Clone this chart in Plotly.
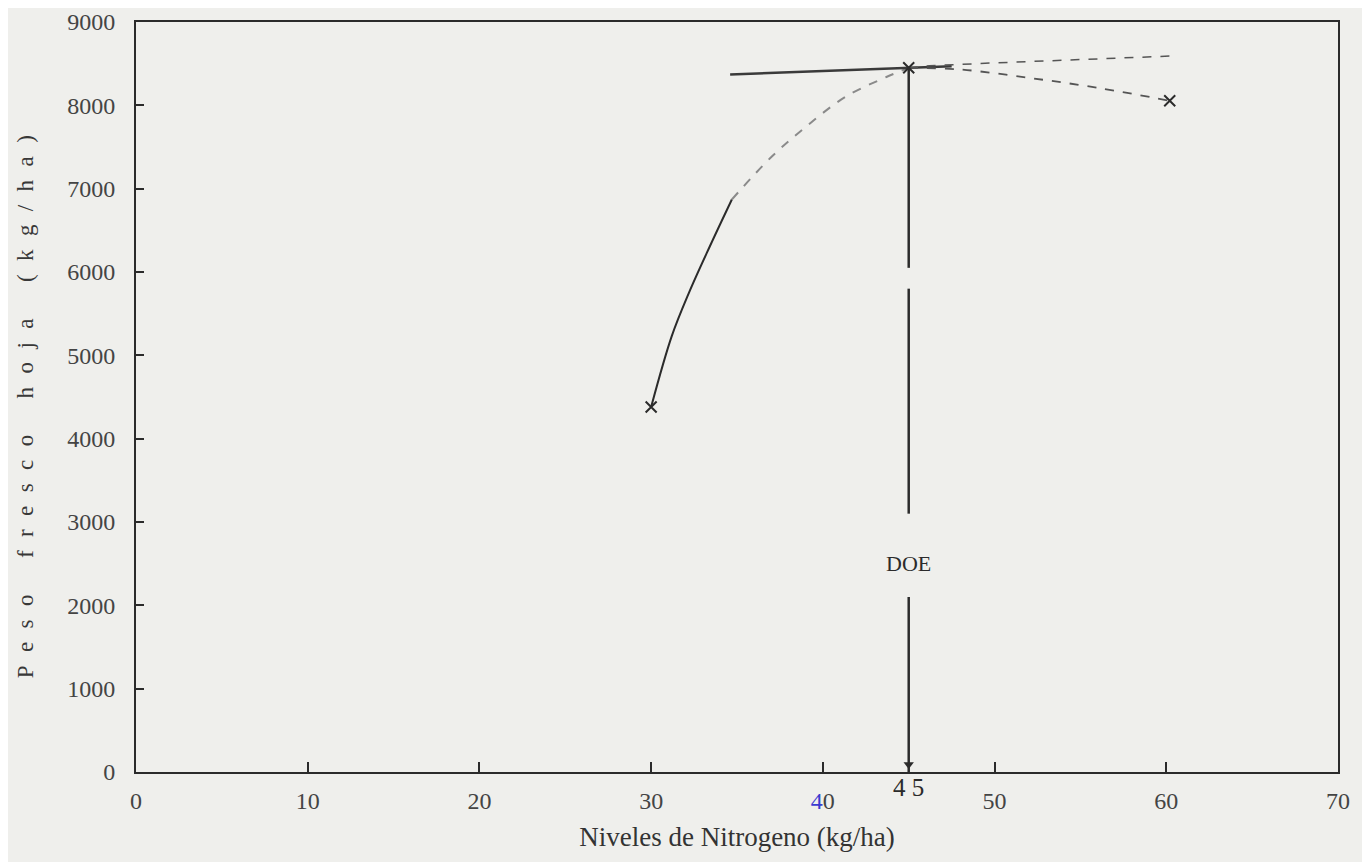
import plotly.graph_objects as go

# ---- data ----
x_ticks = [0, 10, 20, 30, 40, 50, 60, 70]
x_tick_text = ["0", "10", "20", "30", "<span style='color:#3b3bd0'>4</span>0", "50", "60", "70"]
y_ticks = [0, 1000, 2000, 3000, 4000, 5000, 6000, 7000, 8000, 9000]

# response curve (solid dark lower part, faint dashed upper part)
curve_x = [30.0, 31.2, 32.2, 33.4, 34.7, 37.0, 39.0, 41.3, 43.7, 45.0]
curve_y = [4380, 5230, 5750, 6300, 6870, 7380, 7740, 8100, 8340, 8450]
solid_n = 5

# near-horizontal tangent line
tang_x = [34.6, 45.0, 47.5]
tang_y = [8370, 8450, 8470]

# upper dashed projection
up_x = [45.0, 46.2, 50.2, 56.0, 60.7]
up_y = [8450, 8475, 8511, 8559, 8595]

# lower dashed projection
low_x = [45.0, 48.0, 52.0, 56.0, 60.2]
low_y = [8450, 8430, 8330, 8210, 8055]

# observed points (x markers)
pts_x = [30.0, 45.0, 60.2]
pts_y = [4380, 8450, 8055]

# optimum dose (DOE) vertical line pieces
doe_x = 45
doe_pieces = [(8450, 6050), (5800, 3100), (2100, 0)]
doe_label_y = 2500

ink = "#2b2b2b"
bg = "#efefec"
font = "Liberation Serif"

fig = go.Figure()

fig.add_trace(go.Scatter(x=curve_x[:solid_n], y=curve_y[:solid_n], mode="lines",
                         line=dict(color=ink, width=2, shape="spline"), showlegend=False))
fig.add_trace(go.Scatter(x=curve_x[solid_n - 1:], y=curve_y[solid_n - 1:], mode="lines",
                         line=dict(color="#8a8a8a", width=2, dash="dash", shape="spline"),
                         showlegend=False))
fig.add_trace(go.Scatter(x=tang_x, y=tang_y, mode="lines",
                         line=dict(color="#3a3a3a", width=2.5), showlegend=False))
fig.add_trace(go.Scatter(x=up_x, y=up_y, mode="lines",
                         line=dict(color="#555555", width=1.5, dash="dash"), showlegend=False))
fig.add_trace(go.Scatter(x=low_x, y=low_y, mode="lines",
                         line=dict(color="#555555", width=1.8, dash="dash", shape="spline"),
                         showlegend=False))
for (a, b) in doe_pieces:
    fig.add_trace(go.Scatter(x=[doe_x, doe_x], y=[a, b], mode="lines",
                             line=dict(color=ink, width=2.5), showlegend=False))
fig.add_trace(go.Scatter(x=[doe_x], y=[90], mode="markers",
                         marker=dict(symbol="triangle-down", size=9, color=ink), showlegend=False))
fig.add_trace(go.Scatter(x=pts_x, y=pts_y, mode="markers",
                         marker=dict(symbol="x-thin", size=11, line=dict(color=ink, width=2)),
                         showlegend=False))

fig.add_annotation(x=doe_x, y=doe_label_y, text="DOE", showarrow=False,
                   font=dict(family=font, size=22, color=ink))
fig.add_annotation(x=45, y=0, yshift=0, text="4 5", showarrow=False, yanchor="top",
                   font=dict(family=font, size=25, color=ink))
sp = "\u2002\u200a"
ytitle = "\u2003".join(sp.join(w) for w in ["Peso", "fresco", "hoja", "(kg/ha)"])
ytitle = ytitle.replace("\u2003", sp + "\u2003")
fig.add_annotation(xref="paper", yref="paper", x=-0.104, y=0.487,
                   text=ytitle, textangle=-90, showarrow=False,
                   font=dict(family=font, size=23, color="#383838"))

fig.update_xaxes(range=[0, 70], tickvals=x_ticks, ticktext=x_tick_text,
                 ticks="inside", ticklen=10, tickwidth=1.5, tickcolor=ink,
                 showline=True, linecolor=ink, linewidth=2, mirror=True,
                 showgrid=False, zeroline=False, ticklabelstandoff=6, automargin=False,
                 tickfont=dict(family=font, size=24, color="#444444"),
                 title=dict(text="Niveles de Nitrogeno (kg/ha)", standoff=14,
                            font=dict(family=font, size=27, color="#333333")))
fig.update_yaxes(range=[0, 9000], tickvals=y_ticks,
                 ticks="inside", ticklen=8, tickwidth=1.5, tickcolor=ink,
                 showline=True, linecolor=ink, linewidth=2, mirror=True,
                 showgrid=False, zeroline=False, ticklabelstandoff=14, automargin=False,
                 tickfont=dict(family=font, size=24, color="#444444"))

fig.update_layout(width=1370, height=862, paper_bgcolor=bg, plot_bgcolor=bg,
                  margin=dict(l=128, r=40, t=14, b=98), showlegend=False)

fig.write_html("out.html")
